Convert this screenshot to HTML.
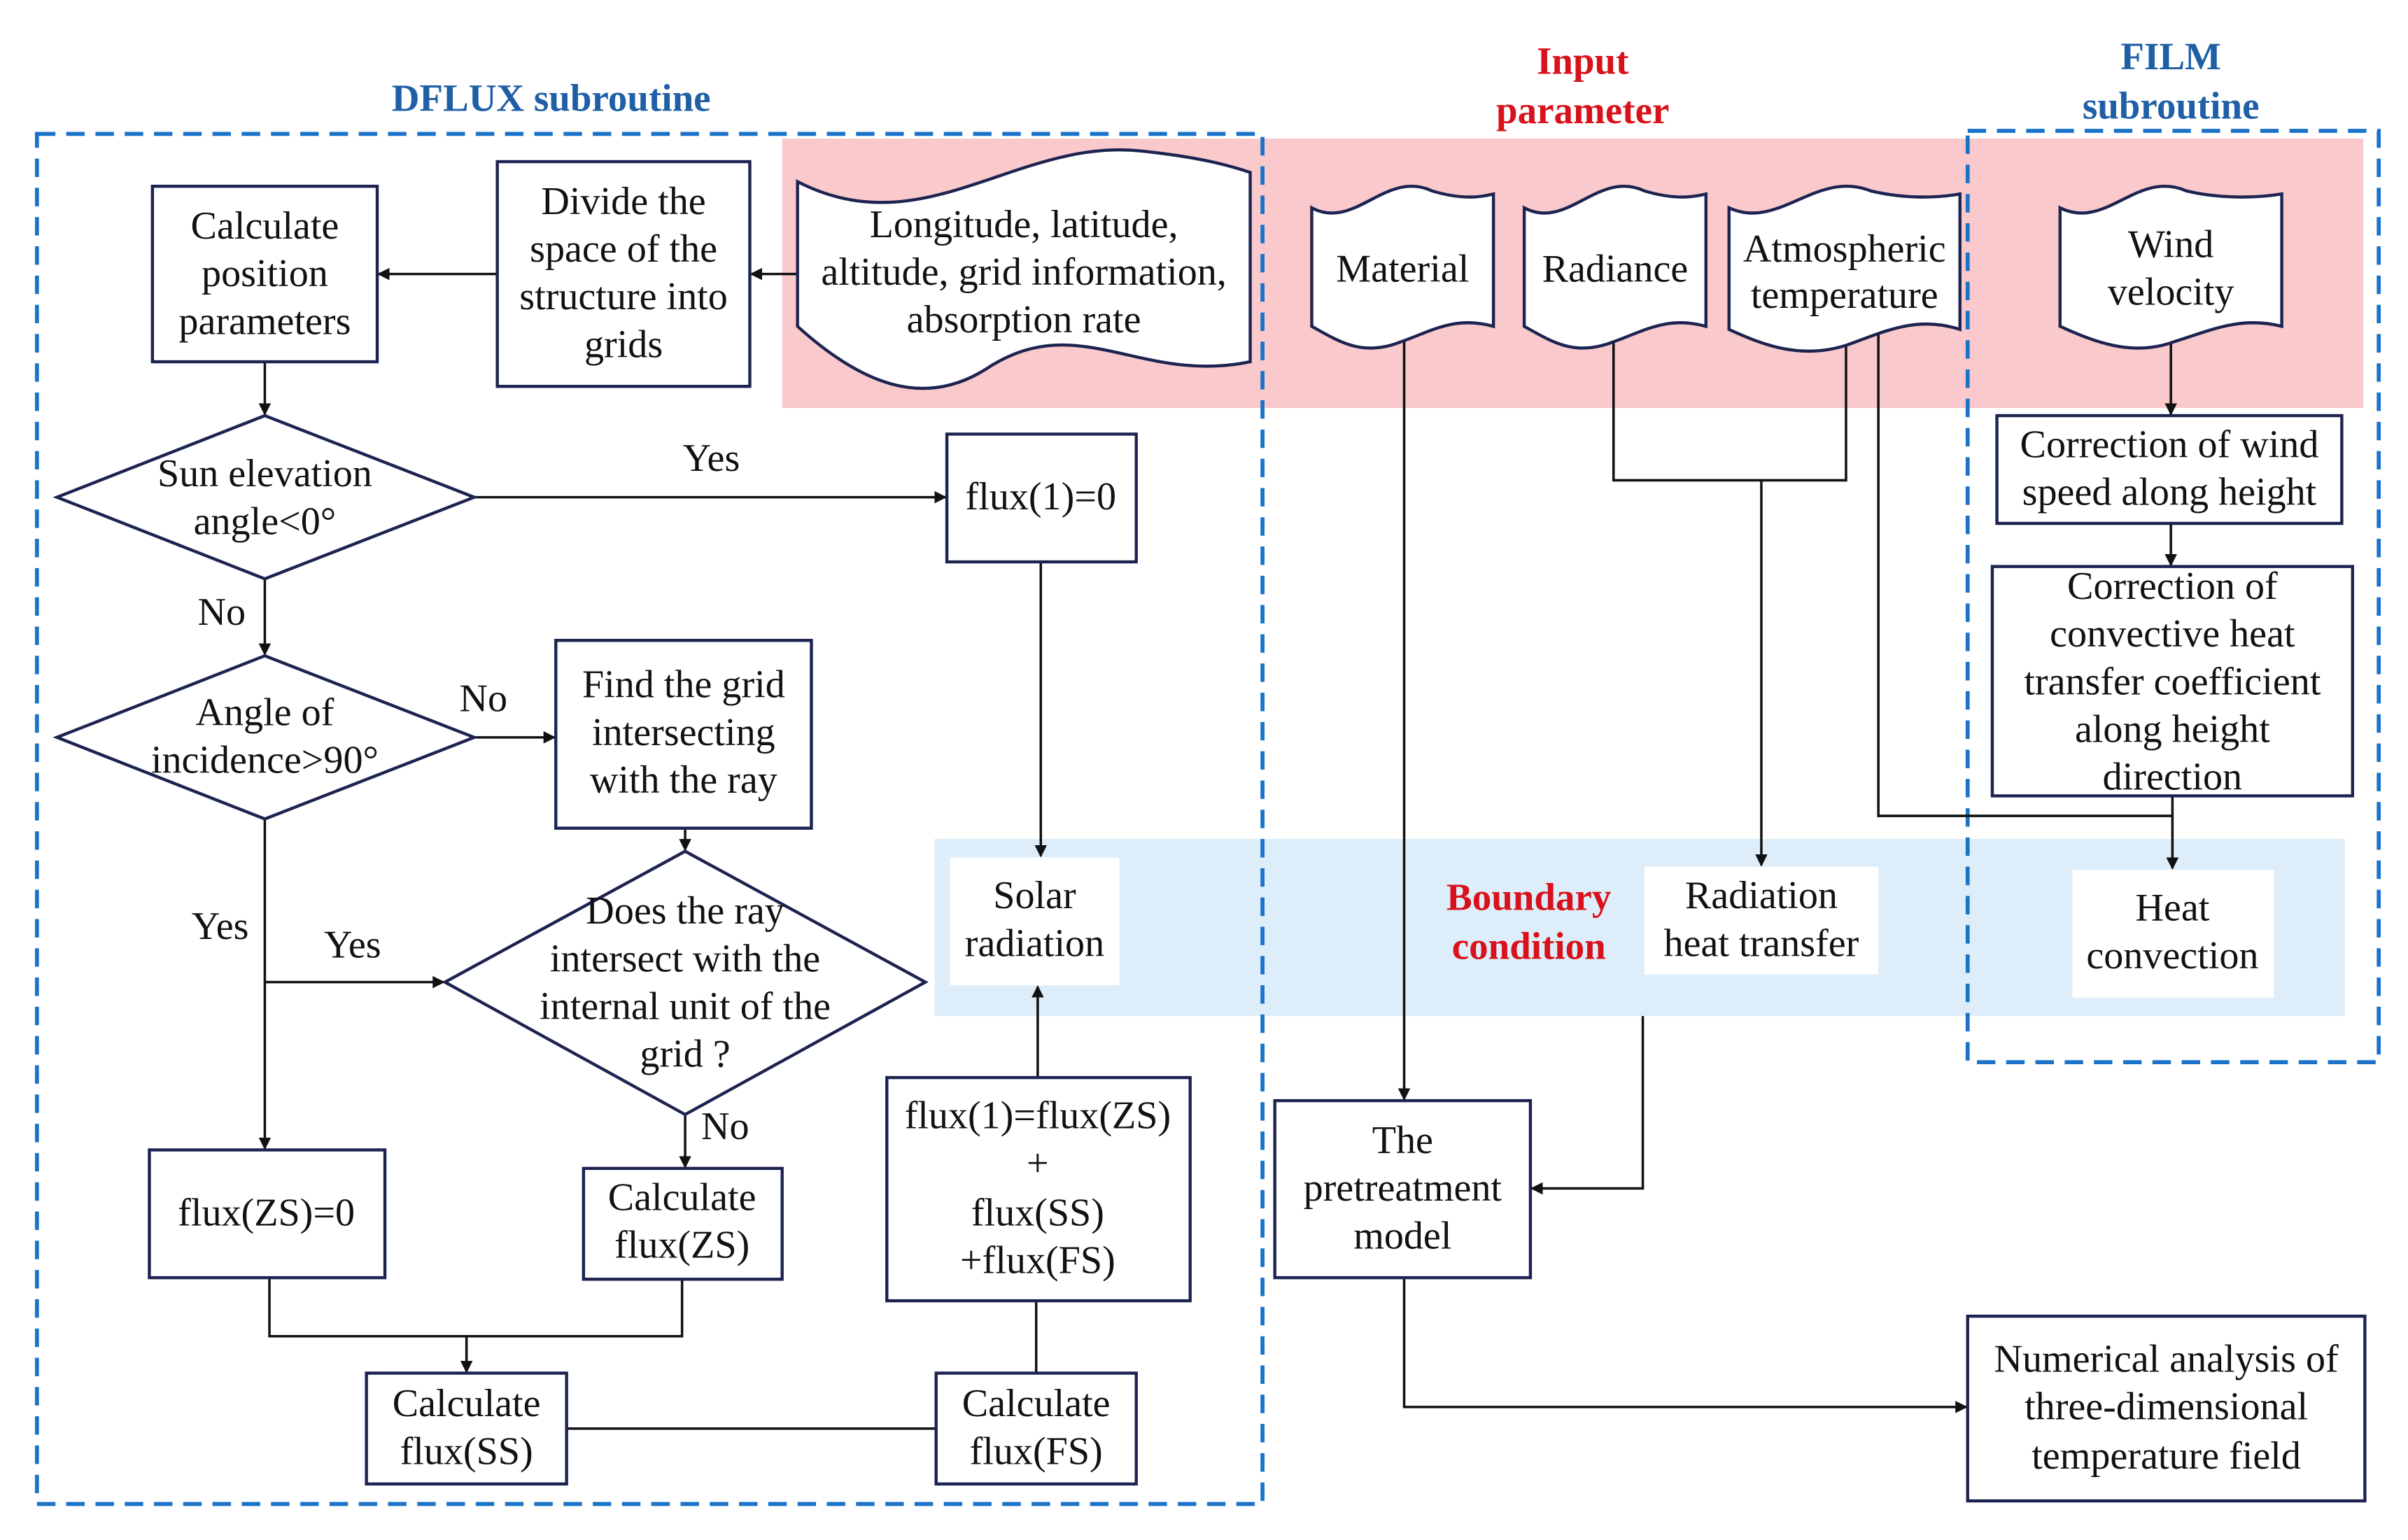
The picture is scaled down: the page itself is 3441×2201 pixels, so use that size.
<!DOCTYPE html>
<html><head><meta charset="utf-8"><style>
html,body{margin:0;padding:0;background:#fff;}
svg{display:block;}
text{font-family:"Liberation Serif",serif;font-size:25.5px;fill:#111;text-anchor:middle;}
.t{font-weight:bold;font-size:25px;}
.b{fill:#1f5fa6;}
.r{fill:#d9111a;}
.bx{fill:#fff;stroke:#1c2350;stroke-width:2;}
.ln{fill:none;stroke:#111;stroke-width:1.6;}
.ds{fill:none;stroke:#1a73c9;stroke-width:2.6;stroke-dasharray:12,7;}
</style></head><body>
<svg width="3441" height="2201" viewBox="0 0 1564 1000.4" xmlns="http://www.w3.org/2000/svg">
<defs><marker id="a" markerWidth="8" markerHeight="8" refX="7" refY="4" orient="auto" markerUnits="userSpaceOnUse"><path d="M0,0 L8,4 L0,8 z" fill="#111"/></marker></defs>
<rect x="508" y="90" width="1027" height="175" fill="#f9c9cb"/>
<rect x="607" y="545" width="916" height="115" fill="#ddeefa"/>
<rect class="ds" x="24" y="87" width="796" height="890"/>
<rect class="ds" x="1278" y="85" width="267" height="605"/>
<text class="t b" x="358" y="72">DFLUX subroutine</text>
<text class="t r" x="1028" y="48">Input</text><text class="t r" x="1028" y="80">parameter</text>
<text class="t b" x="1410" y="45">FILM</text><text class="t b" x="1410" y="77">subroutine</text>
<text class="t r" x="993" y="591">Boundary</text><text class="t r" x="993" y="623">condition</text>

<g class="ln">
<path d="M323,178 H246" marker-end="url(#a)"/>
<path d="M518,178 H488" marker-end="url(#a)"/>
<path d="M172,235 V269" marker-end="url(#a)"/>
<path d="M308,323 H614" marker-end="url(#a)"/>
<path d="M172,376 V425" marker-end="url(#a)"/>
<path d="M308,479 H360" marker-end="url(#a)"/>
<path d="M445,538 V552" marker-end="url(#a)"/>
<path d="M172,532 V746" marker-end="url(#a)"/>
<path d="M172,638 H288" marker-end="url(#a)"/>
<path d="M445,724 V758" marker-end="url(#a)"/>
<path d="M676,365 V556" marker-end="url(#a)"/>
<path d="M674,700 V641" marker-end="url(#a)"/>
<path d="M673,892 V845"/>
<path d="M368,928 H608"/>
<path d="M175,830 V868 H443 V831"/>
<path d="M303,868 V891" marker-end="url(#a)"/>
<path d="M912,215 V714" marker-end="url(#a)"/>
<path d="M1048,215 V312 H1199 V220"/>
<path d="M1144,312 V562" marker-end="url(#a)"/>
<path d="M1220,210 V530 H1411"/>
<path d="M1410,215 V269" marker-end="url(#a)"/>
<path d="M1410,340 V367" marker-end="url(#a)"/>
<path d="M1411,517 V564" marker-end="url(#a)"/>
<path d="M1067,660 V772 H995" marker-end="url(#a)"/>
<path d="M912,830 V914 H1277" marker-end="url(#a)"/>
</g>

<rect class="bx" x="99" y="121" width="146" height="114"/>
<text x="172" y="155">Calculate</text><text x="172" y="186">position</text><text x="172" y="217">parameters</text>
<rect class="bx" x="323" y="105" width="164" height="146"/>
<text x="405" y="139">Divide the</text><text x="405" y="170">space of the</text><text x="405" y="201">structure into</text><text x="405" y="232">grids</text>

<path class="bx" d="M518,118 C600,160 660,90 740,98 C780,102 800,108 812,112 V235 C740,250 700,200 640,240 C600,265 560,250 518,212 Z"/>
<text x="665" y="154">Longitude, latitude,</text><text x="665" y="185">altitude, grid information,</text><text x="665" y="216">absorption rate</text>

<path class="bx" d="M852,135 C880,150 900,110 930,124 C950,130 962,128 970,126 V212 C945,205 930,215 910,222 C885,232 870,222 852,212 Z"/>
<text x="911" y="183">Material</text>
<path class="bx" d="M990,135 C1018,150 1038,110 1068,124 C1088,130 1100,128 1108,126 V212 C1083,205 1068,215 1048,222 C1023,232 1008,222 990,212 Z"/>
<text x="1049" y="183">Radiance</text>
<path class="bx" d="M1123,135 C1155,150 1180,110 1215,124 C1240,130 1262,128 1273,126 V214 C1245,205 1225,215 1200,224 C1170,234 1145,224 1123,214 Z"/>
<text x="1198" y="170">Atmospheric</text><text x="1198" y="200">temperature</text>
<path class="bx" d="M1338,135 C1368,150 1388,110 1420,124 C1445,130 1470,128 1482,126 V212 C1455,205 1435,215 1412,222 C1385,232 1360,222 1338,212 Z"/>
<text x="1410" y="167">Wind</text><text x="1410" y="198">velocity</text>

<polygon class="bx" points="37,323 172,270 308,323 172,376"/>
<text x="172" y="316">Sun elevation</text><text x="172" y="347">angle&lt;0°</text>
<rect class="bx" x="615" y="282" width="123" height="83"/>
<text x="676" y="331">flux(1)=0</text>
<polygon class="bx" points="37,479 172,426 308,479 172,532"/>
<text x="172" y="471">Angle of</text><text x="172" y="502">incidence&gt;90°</text>
<rect class="bx" x="361" y="416" width="166" height="122"/>
<text x="444" y="453">Find the grid</text><text x="444" y="484">intersecting</text><text x="444" y="515">with the ray</text>
<polygon class="bx" points="289,638 445,553 601,638 445,724"/>
<text x="445" y="600">Does the ray</text><text x="445" y="631">intersect with the</text><text x="445" y="662">internal unit of the</text><text x="445" y="693">grid ?</text>
<rect x="617" y="557" width="110" height="83" fill="#fff"/>
<text x="672" y="590">Solar</text><text x="672" y="621">radiation</text>
<rect class="bx" x="97" y="747" width="153" height="83"/>
<text x="173" y="796">flux(ZS)=0</text>
<rect class="bx" x="379" y="759" width="129" height="72"/>
<text x="443" y="786">Calculate</text><text x="443" y="817">flux(ZS)</text>
<rect class="bx" x="576" y="700" width="197" height="145"/>
<text x="674" y="733">flux(1)=flux(ZS)</text><text x="674" y="764">+</text><text x="674" y="796">flux(SS)</text><text x="674" y="827">+flux(FS)</text>
<rect class="bx" x="238" y="892" width="130" height="72"/>
<text x="303" y="920">Calculate</text><text x="303" y="951">flux(SS)</text>
<rect class="bx" x="608" y="892" width="130" height="72"/>
<text x="673" y="920">Calculate</text><text x="673" y="951">flux(FS)</text>
<rect class="bx" x="828" y="715" width="166" height="115"/>
<text x="911" y="749">The</text><text x="911" y="780">pretreatment</text><text x="911" y="811">model</text>
<rect class="bx" x="1278" y="855" width="258" height="120"/>
<text x="1407" y="891">Numerical analysis of</text><text x="1407" y="922">three-dimensional</text><text x="1407" y="954">temperature field</text>
<rect class="bx" x="1297" y="270" width="224" height="70"/>
<text x="1409" y="297">Correction of wind</text><text x="1409" y="328">speed along height</text>
<rect class="bx" x="1294" y="368" width="234" height="149"/>
<text x="1411" y="389">Correction of</text><text x="1411" y="420">convective heat</text><text x="1411" y="451">transfer coefficient</text><text x="1411" y="482">along height</text><text x="1411" y="513">direction</text>
<rect x="1068" y="563" width="152" height="70" fill="#fff"/>
<text x="1144" y="590">Radiation</text><text x="1144" y="621">heat transfer</text>
<rect x="1346" y="565" width="131" height="83" fill="#fff"/>
<text x="1411" y="598">Heat</text><text x="1411" y="629">convection</text>

<text x="462" y="306">Yes</text>
<text x="144" y="406">No</text>
<text x="314" y="462">No</text>
<text x="143" y="610">Yes</text>
<text x="229" y="622">Yes</text>
<text x="471" y="740">No</text>
</svg>
</body></html>
